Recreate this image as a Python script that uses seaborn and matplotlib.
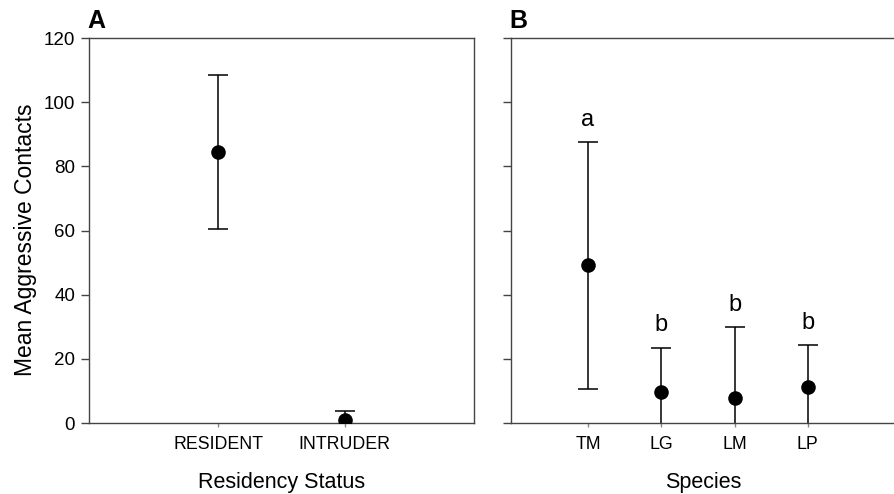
import matplotlib
matplotlib.use("Agg")
import matplotlib.pyplot as plt
import seaborn as sns
import pandas as pd

sns.set_theme(style="white")
plt.rcParams['font.family'] = ['Liberation Sans', 'DejaVu Sans']

# Data
status = ["RESIDENT", "INTRUDER"]
status_mean = [84.5, 0.8]
status_err = [24.0, 3.0]

species = ["TM", "LG", "LM", "LP"]
species_mean = [49.1, 9.7, 7.9, 11.3]
species_err = [38.5, 13.8, 22.0, 13.0]
species_letters = ["a", "b", "b", "b"]

yticks = [0, 20, 40, 60, 80, 100, 120]

df_a = pd.DataFrame({"cat": status, "mean": status_mean, "err": status_err})
df_b = pd.DataFrame({"cat": species, "mean": species_mean, "err": species_err})

fig = plt.figure(figsize=(8.95, 4.94), dpi=100)
axA = fig.add_axes([89/895, 71/494, 385/895, 385/494])
axB = fig.add_axes([511/895, 71/494, 384/895, 385/494])

spine_col = "#444444"

def draw(ax, df):
    ax.errorbar(df["cat"], df["mean"], yerr=df["err"], fmt="none",
                ecolor="black", elinewidth=1.1, capsize=7, capthick=1.1,
                zorder=2)
    sns.scatterplot(data=df, x="cat", y="mean", ax=ax, color="black",
                    s=110, edgecolor="black", linewidth=0, zorder=3,
                    legend=False)
    ax.set_ylim(0, 120)
    ax.set_yticks(yticks)
    for s in ax.spines.values():
        s.set_color(spine_col)
        s.set_linewidth(1.0)
    ax.tick_params(axis="y", which="both", left=True, direction="out",
                   length=6, width=1, color=spine_col, labelsize=13.5,
                   pad=4, labelcolor="black")
    ax.tick_params(axis="x", which="both", bottom=True, direction="out",
                   length=3, width=1, color="#888888", labelsize=12.8,
                   pad=6, labelcolor="black")

draw(axA, df_a)
axA.set_xlim(-1.02, 2.02)
axA.set_xlabel("Residency Status", fontsize=15.5, color="black", labelpad=14)
axA.set_ylabel("Mean Aggressive Contacts", fontsize=16.5, color="black")
axA.yaxis.set_label_coords(-0.135, 0.477)
axA.text(-0.005, 1.012, "A", transform=axA.transAxes, fontsize=18,
         fontweight="bold", ha="left", va="bottom", color="black")

draw(axB, df_b)
axB.set_xlim(-1.05, 4.19)
axB.spines["right"].set_visible(False)
axB.tick_params(axis="y", labelleft=False)
axB.set_xlabel("Species", fontsize=15.5, color="black", labelpad=14)
axB.set_ylabel("")
for cat, m, e, lab in zip(species, species_mean, species_err, species_letters):
    axB.text(cat, m + e + 3.5, lab, ha="center", va="bottom", fontsize=17,
             color="black")
axB.text(-0.005, 1.012, "B", transform=axB.transAxes, fontsize=18,
         fontweight="bold", ha="left", va="bottom", color="black")

fig.savefig("out.png", dpi=100)
